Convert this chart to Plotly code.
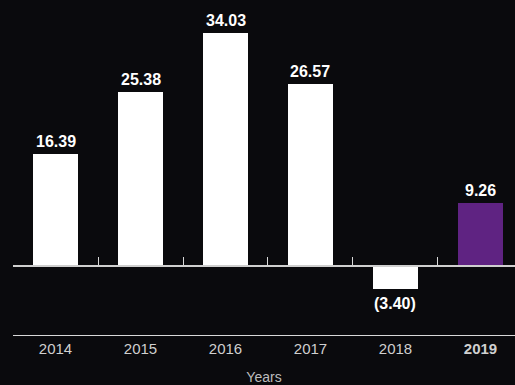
import plotly.graph_objects as go

years = ["2014", "2015", "2016", "2017", "2018", "2019"]
values = [16.39, 25.38, 34.03, 26.57, -3.40, 9.26]
highlight_year = "2019"

BG = "#0a0a0d"
PURPLE = "#5f2382"

xs = list(range(len(years)))
colors = [PURPLE if y == highlight_year else "#ffffff" for y in years]
ticktext = [f"<b>{y}</b>" if y == highlight_year else y for y in years]
labels = [f"{v:.2f}" if v >= 0 else f"({abs(v):.2f})" for v in values]

ymin, ymax = -10.07, 38.83
xr = [-0.5, 5.406]

fig = go.Figure()
fig.add_trace(go.Bar(x=xs, y=values, width=0.53, marker=dict(color=colors, line=dict(width=0)),
                     hoverinfo="skip", showlegend=False))
fig.add_trace(go.Scatter(x=xs, y=values, xaxis="x2", mode="markers", marker=dict(opacity=0),
                         hoverinfo="skip", showlegend=False))

for x, v, t in zip(xs, values, labels):
    fig.add_annotation(x=x, y=v, text=f"<b>{t}</b>", showarrow=False,
                       yanchor="bottom" if v >= 0 else "top",
                       yshift=2 if v >= 0 else -4,
                       font=dict(family="Liberation Sans, Arial", size=16, color="#ffffff"))

fig.update_layout(
    width=515, height=385,
    margin=dict(l=13, r=0, t=0, b=50),
    paper_bgcolor=BG, plot_bgcolor=BG,
    bargap=0,
    xaxis=dict(range=xr, tickmode="array", tickvals=xs, ticktext=ticktext,
               showline=True, linecolor="#d8d8d8", linewidth=1, ticks="",
               showgrid=False, zeroline=False,
               tickfont=dict(family="Liberation Sans, Arial", size=15, color="#d0d0d0"),
               title=dict(text="Years", standoff=16,
                          font=dict(family="Liberation Sans, Arial", size=14, color="#bdbdbd"))),
    xaxis2=dict(range=xr, overlaying="x", anchor="free",
                position=(0 - ymin) / (ymax - ymin), side="bottom",
                tickmode="array", tickvals=[i - 0.5 for i in xs],
                ticks="inside", ticklen=8, tickwidth=1, tickcolor="#d8d8d8",
                showticklabels=False, showline=True, linecolor="#cfcfcf", linewidth=2,
                showgrid=False, zeroline=False),
    yaxis=dict(range=[ymin, ymax], visible=False, showgrid=False, zeroline=False),
)

fig.write_html("out.html")
